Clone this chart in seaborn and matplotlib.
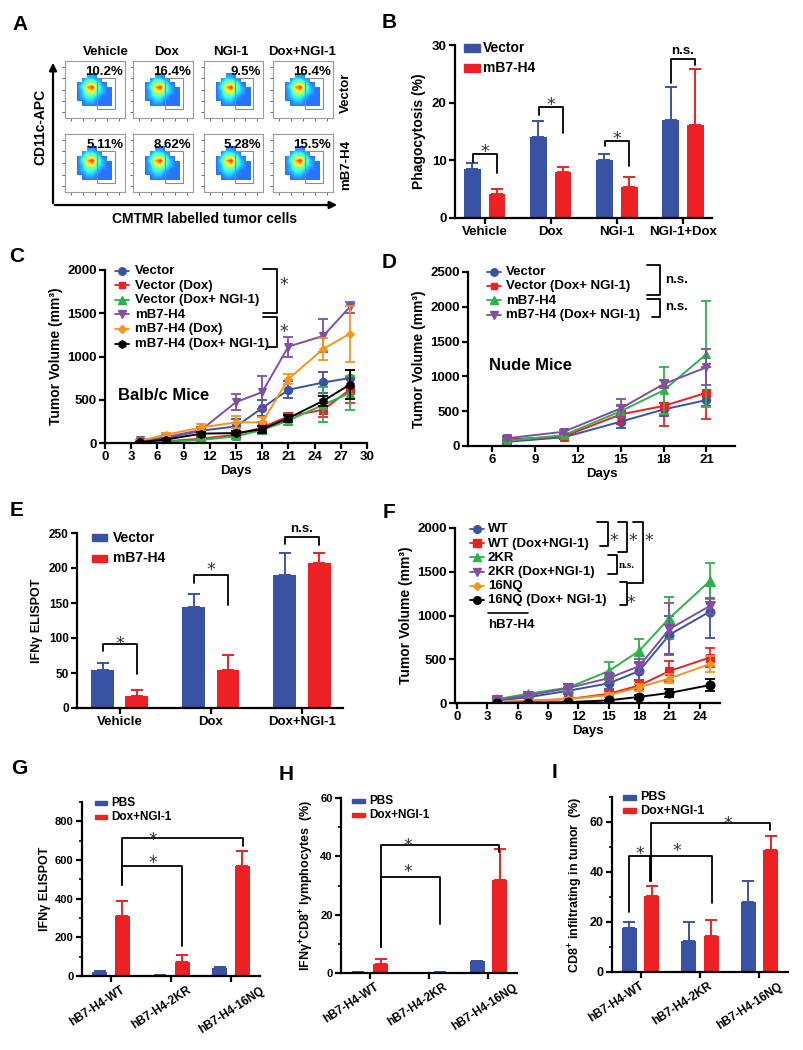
import matplotlib
matplotlib.use("Agg")
import numpy as np
import pandas as pd
import matplotlib.pyplot as plt
from matplotlib.patches import Rectangle
from matplotlib.transforms import ScaledTranslation
import seaborn as sns

W, H = 804, 1050

# ---------------- data ----------------
# A: flow cytometry
FLOW_COLS = ["Vehicle", "Dox", "NGI-1", "Dox+NGI-1"]
FLOW_ROWS = ["Vector", "mB7-H4"]
FLOW_PCT_VECTOR = ["10.2%", "16.4%", "9.5%", "16.4%"]
FLOW_PCT_MB7 = ["5.11%", "8.62%", "5.28%", "15.5%"]
# density of events (rows bottom -> top)
FLOW_DENSITY = [
    [0, 0, 0, 0, 0, 0, 0, 0, 0, 0, 0, 0],
    [0, 0, 0, 0, 0, 0, 0, 0, 0, 0, 0, 0],
    [0, 0, 0, 1, 1, 1, 1, 1, 1, 1, 0, 0],
    [0, 0, 1, 1, 2, 2, 1, 1, 1, 1, 1, 0],
    [0, 0, 1, 2, 3, 3, 2, 1, 1, 1, 0, 0],
    [0, 0, 1, 2, 5, 6, 3, 2, 1, 1, 0, 0],
    [0, 0, 1, 3, 7, 9, 4, 2, 1, 1, 0, 0],
    [0, 0, 1, 2, 4, 4, 3, 1, 1, 0, 0, 0],
    [0, 0, 0, 1, 2, 2, 1, 1, 0, 0, 0, 0],
    [0, 0, 0, 0, 1, 1, 1, 0, 0, 0, 0, 0],
    [0, 0, 0, 0, 0, 0, 0, 0, 0, 0, 0, 0],
    [0, 0, 0, 0, 0, 0, 0, 0, 0, 0, 0, 0],
]

# B: phagocytosis
B_GROUPS = ["Vehicle", "Dox", "NGI-1", "NGI-1+Dox"]
B_VECTOR = [8.5, 14.0, 10.0, 17.0]
B_VECTOR_ERR = [1.1, 2.8, 1.1, 5.8]
B_MB7 = [4.2, 8.0, 5.3, 16.1]
B_MB7_ERR = [0.9, 0.9, 1.8, 9.8]

# C: Balb/c mice tumor growth
C_DAYS = [4, 7, 11, 15, 18, 21, 25, 28]
C_VECTOR = [19, 58, 142, 192, 404, 615, 700, 750]
C_VECTOR_ERR = [10, 20, 30, 90, 90, 100, 120, 95]
C_VECTOR_DOX = [10, 20, 50, 96, 180, 308, 385, 615]
C_VECTOR_DOX_ERR = [5, 10, 15, 30, 60, 40, 80, 150]
C_VECTOR_DN = [5, 15, 35, 77, 150, 260, 442, 577]
C_VECTOR_DN_ERR = [5, 10, 15, 30, 50, 50, 200, 200]
C_MB7 = [30, 70, 150, 473, 588, 1115, 1238, 1569]
C_MB7_ERR = [10, 20, 30, 96, 190, 115, 190, 65]
C_MB7_DOX = [25, 96, 180, 238, 238, 740, 1088, 1261]
C_MB7_DOX_ERR = [10, 20, 40, 70, 60, 60, 130, 320]
C_MB7_DN = [10, 40, 108, 115, 160, 288, 488, 673]
C_MB7_DN_ERR = [5, 10, 20, 20, 40, 40, 60, 170]

# D: nude mice tumor growth
D_DAYS = [7, 11, 15, 18, 21]
D_VECTOR = [60, 125, 350, 525, 660]
D_VECTOR_ERR = [30, 30, 90, 100, 80]
D_VECTOR_DN = [95, 135, 455, 575, 765]
D_VECTOR_DN_ERR = [30, 30, 135, 290, 370]
D_MB7 = [75, 155, 500, 800, 1320]
D_MB7_ERR = [20, 30, 80, 340, 760]
D_MB7_DN = [110, 205, 540, 890, 1130]
D_MB7_DN_ERR = [30, 30, 130, 60, 260]

# E: IFNg ELISPOT
E_GROUPS = ["Vehicle", "Dox", "Dox+NGI-1"]
E_VECTOR = [55, 145, 190]
E_VECTOR_ERR = [9, 18, 31]
E_MB7 = [17, 55, 207]
E_MB7_ERR = [9, 21, 15]

# F: hB7-H4 mutants tumor growth
F_DAYS = [4, 7, 11, 15, 18, 21, 25]
F_WT = [30, 65, 140, 225, 365, 780, 1045]
F_WT_ERR = [20, 25, 40, 60, 100, 220, 300]
F_WT_DN = [10, 25, 45, 105, 200, 365, 520]
F_WT_DN_ERR = [10, 10, 15, 30, 50, 110, 110]
F_2KR = [45, 105, 175, 365, 595, 970, 1395]
F_2KR_ERR = [20, 25, 40, 100, 140, 240, 210]
F_2KR_DN = [35, 85, 170, 285, 420, 845, 1110]
F_2KR_DN_ERR = [20, 25, 50, 60, 80, 300, 90]
F_16NQ = [10, 25, 45, 90, 180, 280, 445]
F_16NQ_ERR = [5, 10, 15, 25, 40, 50, 95]
F_16NQ_DN = [0, 5, 10, 30, 70, 115, 205]
F_16NQ_DN_ERR = [2, 5, 5, 10, 20, 50, 70]

# G/H/I
GHI_GROUPS = ["hB7-H4-WT", "hB7-H4-2KR", "hB7-H4-16NQ"]
G_PBS = [19, 3, 39]
G_PBS_ERR = [6, 2, 9]
G_DN = [309, 70, 568]
G_DN_ERR = [80, 38, 81]
H_PBS = [0.2, 0.05, 4.0]
H_PBS_ERR = [0.1, 0.05, 0.2]
H_DN = [3.2, 0.3, 31.9]
H_DN_ERR = [1.5, 0.1, 10.5]
I_PBS = [17.6, 12.6, 27.9]
I_PBS_ERR = [2.4, 7.3, 8.4]
I_DN = [30.3, 14.3, 49.0]
I_DN_ERR = [4.0, 6.7, 5.4]

BLUE = "#3953A4"
RED = "#ED2024"
GREEN = "#2DB24A"
PURPLE = "#7E4FA3"
ORANGE = "#F7931E"
BLACK = "#000000"

# ---------------- style ----------------
sns.set_theme(style="ticks")
plt.rcParams["font.family"] = ["Liberation Sans", "DejaVu Sans"]
plt.rcParams["font.weight"] = "bold"
plt.rcParams["axes.labelweight"] = "bold"
plt.rcParams["mathtext.fontset"] = "custom"
plt.rcParams["mathtext.rm"] = "Liberation Sans:bold"
plt.rcParams["mathtext.bf"] = "Liberation Sans:bold"
plt.rcParams["mathtext.it"] = "Liberation Sans:bold"
plt.rcParams["mathtext.default"] = "bf"
plt.rcParams["axes.edgecolor"] = "black"
plt.rcParams["text.color"] = "black"
plt.rcParams["axes.labelcolor"] = "black"
plt.rcParams["xtick.color"] = "black"
plt.rcParams["ytick.color"] = "black"

fig = plt.figure(figsize=(W / 100, H / 100), dpi=100)


def px_axes(x0, y0, x1, y1):
    return fig.add_axes([x0 / W, 1 - y1 / H, (x1 - x0) / W, (y1 - y0) / H])


def style(ax, fs):
    sns.despine(ax=ax)
    for s in ("left", "bottom"):
        ax.spines[s].set_linewidth(1.6)
    ax.tick_params(which="major", direction="out", length=4, width=1.6, labelsize=fs, pad=2)
    ax.tick_params(which="minor", direction="out", length=2.5, width=1.2)
    ax.patch.set_alpha(0)


def star(ax, x, y, fs=12.5):
    ax.annotate("*", xy=(x, y), xytext=(0, -0.32 * fs), textcoords="offset points",
                ha="center", va="center", fontsize=fs, family="DejaVu Sans",
                fontweight="normal", color="#333333", annotation_clip=False)


def bracket(ax, x0, x1, ytop, yl, yr, lw=1.3):
    ax.plot([x0, x0, x1, x1], [yl, ytop, ytop, yr], color="black", lw=lw, clip_on=False)


def bar_panel(ax, groups, names, vals, errs, colors):
    df = pd.DataFrame({
        "group": groups * len(names),
        "series": np.repeat(names, len(groups)),
        "value": np.concatenate(vals),
    })
    sns.barplot(data=df, x="group", y="value", hue="series", order=groups, hue_order=names,
                palette=colors, width=0.75, gap=0.33, errorbar=None, saturation=1,
                legend=False, linewidth=0, ax=ax)
    for cont, ee, c in zip(ax.containers, errs, colors):
        for bar, e in zip(cont, ee):
            x = bar.get_x() + bar.get_width() / 2
            ax.errorbar([x], [bar.get_height()], yerr=[[0], [e]], fmt="none", ecolor=c,
                        elinewidth=1.4, capsize=4, capthick=1.4, clip_on=False)
    ax.set_xlabel("")


def line_panel(ax, days, series):
    for vals, errs, c, m, ms in series:
        sns.lineplot(x=days, y=vals, color=c, marker=m, markersize=ms, markeredgecolor=c,
                     lw=1.4, errorbar=None, ax=ax)
        ax.errorbar(days, vals, yerr=errs, fmt="none", ecolor=c, elinewidth=1.3,
                    capsize=3.5, capthick=1.3, clip_on=False)


# overlay axes in pixel coordinates
ov = fig.add_axes([0, 0, 1, 1], zorder=20)
ov.set_xlim(0, W)
ov.set_ylim(H, 0)
ov.axis("off")


def line_key(x_mark, x_text, y, label, color, marker, ms, fs):
    ov.plot([x_mark - 7, x_mark + 7], [y, y], color=color, lw=1.3)
    ov.plot([x_mark], [y], marker=marker, color=color, ms=ms, mec=color)
    ov.text(x_text, y + 0.5, label, ha="left", va="center", fontsize=fs)


def bar_key(x0, x1, y, h, label, color, x_text, fs):
    ov.add_patch(Rectangle((x0, y - h / 2), x1 - x0, h, color=color))
    ov.text(x_text, y + 0.5, label, ha="left", va="center", fontsize=fs)


def pbracket(x, y0, y1, xl0, xl1, lw=1.3):
    ov.plot([xl0, x, x, xl1], [y0, y0, y1, y1], color="black", lw=lw)


def pstar(x, y, fs=12.5):
    ov.text(x, y + 0.32 * fs * 1.389, "*", ha="center", va="center", fontsize=fs,
            family="DejaVu Sans", fontweight="normal", color="#333333")


# panel letters
for letter, (lx, ly) in {"A": (20, 25), "B": (389, 23), "C": (17, 257), "D": (389, 262),
                         "E": (17, 511), "F": (389, 512), "G": (19, 768), "H": (286, 775),
                         "I": (555, 773)}.items():
    ov.text(lx, ly, letter, ha="center", va="center", fontsize=15, fontweight="bold")

# ---------------- A ----------------
FLOW_X = [(65, 125), (133, 193), (204, 263), (273, 333)]
FLOW_Y = [(61, 118), (134, 192)]
cmap = plt.get_cmap("jet").copy()
cmap.set_bad((1, 1, 1, 0))
dens = np.ma.masked_equal(np.array(FLOW_DENSITY, dtype=float), 0)
for r, pcts in enumerate([FLOW_PCT_VECTOR, FLOW_PCT_MB7]):
    for c in range(4):
        ax = px_axes(FLOW_X[c][0], FLOW_Y[r][0], FLOW_X[c][1], FLOW_Y[r][1])
        ax.imshow(dens, origin="lower", extent=(0, 1, 0, 1), aspect="auto", cmap=cmap,
                  vmin=-1.5, vmax=10, interpolation="bilinear", alpha=0.85)
        ax.add_patch(Rectangle((0.53, 0.16), 0.30, 0.55, fill=False, ec="#8c8c8c", lw=0.8))
        ax.text(0.97, 0.81, pcts[c], transform=ax.transAxes, ha="right", va="center", fontsize=9.5)
        ax.set_xlim(0, 1)
        ax.set_ylim(0, 1)
        ax.set_xticks([0.1, 0.3, 0.5, 0.7, 0.9])
        ax.set_yticks([0.1, 0.3, 0.5, 0.7, 0.9])
        ax.set_xticklabels([])
        ax.set_yticklabels([])
        ax.tick_params(length=2, width=0.6, color="#555555")
        for s in ax.spines.values():
            s.set_color("#9a9a9a")
            s.set_linewidth(0.8)

for label, cx in zip(FLOW_COLS, [106, 167, 231, 302]):
    ov.text(cx, 52, label, ha="center", va="center", fontsize=9.5)
for label, cy in zip(FLOW_ROWS, [93, 165]):
    ov.text(346, cy, label, ha="center", va="center", fontsize=9.5, rotation=90)
ov.annotate("", xy=(53, 60), xytext=(53, 206),
            arrowprops=dict(arrowstyle="-|>", lw=1.6, color="black", mutation_scale=11))
ov.annotate("", xy=(340, 205), xytext=(52, 205),
            arrowprops=dict(arrowstyle="-|>", lw=1.6, color="black", mutation_scale=11))
ov.text(40, 127, "CD11c-APC", ha="center", va="center", rotation=90, fontsize=10)
ov.text(205, 219, "CMTMR labelled tumor cells", ha="center", va="center", fontsize=10)

# ---------------- B ----------------
ax = px_axes(455, 45, 712, 218)
bar_panel(ax, B_GROUPS, ["Vector", "mB7-H4"], [B_VECTOR, B_MB7], [B_VECTOR_ERR, B_MB7_ERR],
          [BLUE, RED])
ax.set_xlim(-0.45, 3.44)
ax.set_ylim(0, 30)
ax.set_yticks([0, 10, 20, 30])
ax.set_ylabel("Phagocytosis (%)", fontsize=10, labelpad=4)
style(ax, 9.5)
for i, (top, yl, yr, ys) in enumerate([(11.1, 9.7, 7.8, 12.4), (19.2, 17.9, 14.7, 20.5),
                                       (13.3, 12.4, 9.1, 14.7)]):
    bracket(ax, i - 0.185, i + 0.185, top, yl, yr)
    star(ax, i, ys)
bracket(ax, 3 - 0.185, 3 + 0.185, 27.6, 23.4, 26.5)
ax.text(3, 28.0, "n.s.", ha="center", va="bottom", fontsize=9.5)
bar_key(464, 480, 48, 8, "Vector", BLUE, 483, 10)
bar_key(464, 480, 68, 8, "mB7-H4", RED, 483, 10)

# ---------------- C ----------------
ax = px_axes(105, 270, 367, 443)
c_series = [
    (C_VECTOR, C_VECTOR_ERR, BLUE, "o", 6),
    (C_VECTOR_DOX, C_VECTOR_DOX_ERR, RED, "s", 5.5),
    (C_VECTOR_DN, C_VECTOR_DN_ERR, GREEN, "^", 6),
    (C_MB7, C_MB7_ERR, PURPLE, "v", 6),
    (C_MB7_DOX, C_MB7_DOX_ERR, ORANGE, "D", 4.5),
    (C_MB7_DN, C_MB7_DN_ERR, BLACK, "h", 6),
]
line_panel(ax, C_DAYS, c_series)
ax.set_xlim(0, 30)
ax.set_ylim(0, 2000)
ax.set_xticks(range(0, 31, 3))
ax.set_yticks([0, 500, 1000, 1500, 2000])
ax.set_xlabel("Days", fontsize=9.5, labelpad=1)
ax.set_ylabel("Tumor Volume (mm³)", fontsize=10, labelpad=3)
style(ax, 9.5)
c_labels = ["Vector", "Vector (Dox)", "Vector (Dox+ NGI-1)", "mB7-H4", "mB7-H4 (Dox)",
            "mB7-H4 (Dox+ NGI-1)"]
for i, (lab, s) in enumerate(zip(c_labels, c_series)):
    line_key(122, 135, 270.5 + 14.6 * i, lab, s[2], s[3], s[4] * 0.9, 9.5)
pbracket(277, 269, 313, 263, 263)
pstar(284, 279)
pbracket(277, 317, 347, 263, 268)
pstar(284, 326)
ov.text(118, 395, "Balb/c Mice", ha="left", va="center", fontsize=12)

# ---------------- D ----------------
ax = px_axes(468, 272, 735, 446)
d_series = [
    (D_VECTOR, D_VECTOR_ERR, BLUE, "o", 6),
    (D_VECTOR_DN, D_VECTOR_DN_ERR, RED, "s", 5.5),
    (D_MB7, D_MB7_ERR, GREEN, "^", 6),
    (D_MB7_DN, D_MB7_DN_ERR, PURPLE, "v", 6),
]
line_panel(ax, D_DAYS, d_series)
ax.set_xlim(4.3, 23)
ax.set_ylim(0, 2500)
ax.set_xticks([6, 9, 12, 15, 18, 21])
ax.set_yticks([0, 500, 1000, 1500, 2000, 2500])
ax.set_xlabel("Days", fontsize=9.5, labelpad=1)
ax.set_ylabel("Tumor Volume (mm³)", fontsize=10, labelpad=3)
style(ax, 9.5)
d_labels = ["Vector", "Vector (Dox+ NGI-1)", "mB7-H4", "mB7-H4 (Dox+ NGI-1)"]
for i, (lab, s) in enumerate(zip(d_labels, d_series)):
    line_key(494, 506, 271.5 + 14.4 * i, lab, s[2], s[3], s[4] * 0.9, 9.5)
pbracket(660, 265, 295, 647, 647)
ov.text(665, 280, "n.s.", ha="left", va="center", fontsize=9.5)
pbracket(660, 299, 317, 647, 652)
ov.text(665, 307, "n.s.", ha="left", va="center", fontsize=9.5)
ov.text(489, 366, "Nude Mice", ha="left", va="center", fontsize=12)

# ---------------- E ----------------
ax = px_axes(77, 533, 343, 708)
bar_panel(ax, E_GROUPS, ["Vector", "mB7-H4"], [E_VECTOR, E_MB7], [E_VECTOR_ERR, E_MB7_ERR],
          [BLUE, RED])
ax.set_xlim(-0.47, 2.45)
ax.set_ylim(0, 250)
ax.set_yticks([0, 50, 100, 150, 200, 250])
ax.set_ylabel("IFNγ ELISPOT", fontsize=9, labelpad=4)
style(ax, 8.5)
ax.tick_params(axis="x", labelsize=9.5)
for i, (top, yl, yr, ys) in enumerate([(91, 82, 48, 99), (190, 178, 147, 205)]):
    bracket(ax, i - 0.185, i + 0.185, top, yl, yr)
    star(ax, i, ys)
bracket(ax, 2 - 0.185, 2 + 0.185, 244, 235, 233)
ax.text(2, 247, "n.s.", ha="center", va="bottom", fontsize=9.5)
bar_key(92, 107, 537, 7, "Vector", BLUE, 113, 10)
bar_key(92, 107, 558, 7, "mB7-H4", RED, 113, 10)

# ---------------- F ----------------
ax = px_axes(455, 528, 720, 703)
f_series = [
    (F_WT, F_WT_ERR, BLUE, "o", 6.5),
    (F_WT_DN, F_WT_DN_ERR, RED, "s", 6),
    (F_2KR, F_2KR_ERR, GREEN, "^", 6.5),
    (F_2KR_DN, F_2KR_DN_ERR, PURPLE, "v", 6.5),
    (F_16NQ, F_16NQ_ERR, ORANGE, "D", 4.5),
    (F_16NQ_DN, F_16NQ_DN_ERR, BLACK, "o", 6.5),
]
line_panel(ax, F_DAYS, f_series)
ax.set_xlim(-0.2, 26)
ax.set_ylim(0, 2000)
ax.set_xticks(range(0, 25, 3))
ax.set_yticks([0, 500, 1000, 1500, 2000])
ax.set_xlabel("Days", fontsize=9.5, labelpad=1)
ax.set_ylabel("Tumor Volume (mm³)", fontsize=10, labelpad=3)
style(ax, 9.5)
f_labels = ["WT", "WT (Dox+NGI-1)", "2KR", "2KR (Dox+NGI-1)", "16NQ", "16NQ (Dox+ NGI-1)"]
for i, (lab, s) in enumerate(zip(f_labels, f_series)):
    line_key(477, 488, 529 + 14.2 * i, lab, s[2], s[3], s[4] * 0.85, 9.5)
ov.plot([488, 528], [613, 613], color="black", lw=1.2)
ov.text(488, 625, "hB7-H4", ha="left", va="center", fontsize=9.5)
pbracket(608, 522, 546, 597, 600)
pstar(614, 535)
pbracket(627, 522, 552, 618, 618)
pstar(633, 535)
pbracket(617, 555, 574, 608, 608)
ov.text(619, 565, "n.s.", ha="left", va="center", fontsize=8, family="Liberation Serif")
pbracket(643, 522, 583, 633, 627)
pstar(649, 535)
pbracket(627, 582, 605, 620, 620)
pstar(631, 597)

# ---------------- G / H / I ----------------
def ghi_panel(box, pbs, pbs_err, dn, dn_err, ylim, major, minor, ylabel, fs_tick, shift):
    ax = px_axes(*box)
    bar_panel(ax, GHI_GROUPS, ["PBS", "Dox+NGI-1"], [pbs, dn], [pbs_err, dn_err], [BLUE, RED])
    ax.set_xlim(-0.48, 2.48)
    ax.set_ylim(0, ylim)
    ax.set_yticks(major)
    ax.set_yticks(minor, minor=True)
    ax.set_ylabel(ylabel, fontsize=9, labelpad=3)
    style(ax, fs_tick)
    ax.set_xticks([0, 1, 2])
    ax.set_xticklabels(GHI_GROUPS, rotation=33, ha="center", fontsize=8.5)
    for lab, dx in zip(ax.get_xticklabels(), shift):
        lab.set_transform(lab.get_transform() + ScaledTranslation(dx / 100, 0, fig.dpi_scale_trans))
    return ax


ax = ghi_panel((82, 802, 260, 976), G_PBS, G_PBS_ERR, G_DN, G_DN_ERR, 900,
               [0, 200, 400, 600, 800], [100, 300, 500, 700, 900], "IFNγ ELISPOT", 8,
               [-14, -10, 0])
bracket(ax, 0.19, 2.19, 712, 469, 675)
bracket(ax, 0.19, 1.19, 568, 469, 155)
star(ax, 0.7, 731)
star(ax, 0.7, 615)
bar_key(95, 107, 803, 4.5, "PBS", BLUE, 111, 8.5)
bar_key(95, 107, 817, 4.5, "Dox+NGI-1", RED, 111, 8.5)

ax = ghi_panel((341, 798, 517, 973), H_PBS, H_PBS_ERR, H_DN, H_DN_ERR, 60,
               [0, 20, 40, 60], [10, 30, 50], "IFNγ$^{+}$CD8$^{+}$ lymphocytes  (%)", 8,
               [-18, -12, -4])
bracket(ax, 0.185, 2.185, 43.9, 8.9, 41.6)
bracket(ax, 0.185, 1.19, 33.0, 8.9, 16.7)
star(ax, 0.64, 45.6)
star(ax, 0.64, 36.5)
bar_key(352, 365, 801, 4.5, "PBS", BLUE, 369, 8.5)
bar_key(352, 365, 815, 4.5, "Dox+NGI-1", RED, 369, 8.5)

ax = ghi_panel((612, 797, 788, 972), I_PBS, I_PBS_ERR, I_DN, I_DN_ERR, 70,
               [0, 20, 40, 60], [10, 30, 50, 70], "CD8$^{+}$ infiltrating in tumor  (%)", 9,
               [-24, -18, -10])
bracket(ax, -0.195, 0.16, 46.6, 23.9, 36.3)
bracket(ax, 0.18, 1.2, 46.6, 36.3, 27.7)
bracket(ax, 0.18, 2.18, 59.5, 36.3, 56.8)
star(ax, -0.02, 49.4)
star(ax, 0.61, 50.6)
star(ax, 1.46, 61.3)
bar_key(623, 636, 797, 5, "PBS", BLUE, 640, 9)
bar_key(623, 636, 810, 5, "Dox+NGI-1", RED, 640, 9)

fig.savefig("out.png", dpi=100)
